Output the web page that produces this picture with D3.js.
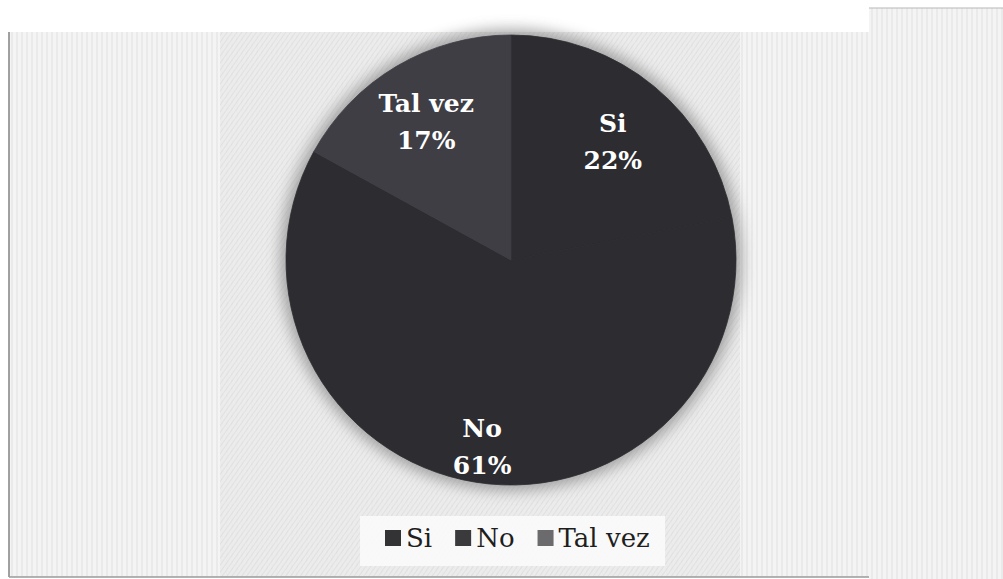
<!DOCTYPE html>
<html>
<head>
<meta charset="utf-8">
<script src="https://cdn.jsdelivr.net/npm/d3@7"></script>
<style>
  html, body { margin: 0; padding: 0; background: #ffffff; }
  svg { display: block; }
</style>
</head>
<body>
<svg id="chart" width="1003" height="579"></svg>
<script>
// ---- data ----
const categories = ["Si", "No", "Tal vez"];
const values = [22, 61, 17];
const percentLabels = ["22%", "61%", "17%"];
const sliceColors = ["#2c2c31", "#2c2c31", "#3e3e44"];
const legendColors = ["#333336", "#3a3a3c", "#6b6b6e"];

// ---- layout ----
const W = 1003, H = 579;
const cx = 511, cy = 260, R = 225;
const labelRadiusFactor = [0.71, 0.82, 0.74];

const svg = d3.select("#chart");
const defs = svg.append("defs");

// textured background patterns
const pat = defs.append("pattern")
  .attr("id", "tex").attr("width", 4).attr("height", 4)
  .attr("patternUnits", "userSpaceOnUse")
  .attr("patternTransform", "rotate(35)");
pat.append("rect").attr("width", 4).attr("height", 4).attr("fill", "#ebebeb");
pat.append("line").attr("x1", 0).attr("y1", 0).attr("x2", 0).attr("y2", 4)
  .attr("stroke", "#cfcfcf").attr("stroke-width", 1);

const pat2 = defs.append("pattern")
  .attr("id", "tex2").attr("width", 5).attr("height", 7)
  .attr("patternUnits", "userSpaceOnUse");
pat2.append("rect").attr("width", 5).attr("height", 7).attr("fill", "#f4f4f4");
pat2.append("line").attr("x1", 2).attr("y1", 0).attr("x2", 2).attr("y2", 7)
  .attr("stroke", "#e0e0e0").attr("stroke-width", 1);

const blur = defs.append("filter").attr("id", "shadow")
  .attr("x", "-20%").attr("y", "-20%").attr("width", "140%").attr("height", "140%");
blur.append("feGaussianBlur").attr("stdDeviation", 7);

// background
svg.append("rect").attr("width", W).attr("height", H).attr("fill", "#ffffff");
svg.append("rect").attr("x", 9).attr("y", 32).attr("width", 860).attr("height", 545)
  .attr("fill", "url(#tex2)");
svg.append("rect").attr("x", 220).attr("y", 32).attr("width", 520).attr("height", 545)
  .attr("fill", "url(#tex)").attr("opacity", 0.85);
svg.append("rect").attr("x", 869).attr("y", 8).attr("width", 134).attr("height", 571)
  .attr("fill", "url(#tex2)");
svg.append("line").attr("x1", 869).attr("x2", 1003).attr("y1", 8).attr("y2", 8)
  .attr("stroke", "#b8b8b8").attr("stroke-width", 1.2);
svg.append("line").attr("x1", 9).attr("x2", 9).attr("y1", 32).attr("y2", 577)
  .attr("stroke", "#8a8a8a").attr("stroke-width", 1.6);
svg.append("line").attr("x1", 9).attr("x2", 869).attr("y1", 577).attr("y2", 577)
  .attr("stroke", "#9a9a9a").attr("stroke-width", 1.4);

// pie
const pie = d3.pie().sort(null).value(d => d.value);
const data = categories.map((c, i) => ({ name: c, value: values[i], label: percentLabels[i], i }));
const arcs = pie(data);
const arc = d3.arc().innerRadius(0).outerRadius(R);

const g = svg.append("g").attr("transform", `translate(${cx},${cy})`);
g.append("circle").attr("r", R + 6).attr("fill", "#8c8c8c").attr("opacity", 0.75)
  .attr("filter", "url(#shadow)");
g.selectAll("path.slice").data(arcs).join("path")
  .attr("class", "slice")
  .attr("d", arc)
  .attr("fill", d => sliceColors[d.data.i])
  .attr("stroke", d => sliceColors[d.data.i])
  .attr("stroke-width", 0.8);

// labels
const lbl = g.selectAll("text.lbl").data(arcs).join("text")
  .attr("class", "lbl")
  .attr("transform", d => {
    const r = R * labelRadiusFactor[d.data.i];
    const c = d3.arc().innerRadius(r).outerRadius(r).centroid(d);
    return `translate(${c[0]},${c[1]})`;
  })
  .attr("text-anchor", "middle")
  .attr("fill", "#ffffff")
  .attr("font-family", "'DejaVu Serif', 'Liberation Serif', serif")
  .attr("font-weight", "bold")
  .attr("font-size", 25);
lbl.append("tspan").attr("x", 0).attr("dy", "-0.2em").text(d => d.data.name);
lbl.append("tspan").attr("x", 0).attr("dy", "1.48em").text(d => d.data.label);

// legend
svg.append("rect").attr("x", 360).attr("y", 516).attr("width", 305).attr("height", 50)
  .attr("fill", "#fbfbfb").attr("opacity", 0.85);
const legend = svg.append("g").attr("transform", "translate(385,538)");
let xoff = 0;
categories.forEach((c, i) => {
  const item = legend.append("g").attr("transform", `translate(${xoff},0)`);
  item.append("rect").attr("x", 0).attr("y", -8).attr("width", 16).attr("height", 16)
    .attr("fill", legendColors[i]);
  const t = item.append("text").attr("x", 21).attr("y", 9)
    .attr("font-family", "'DejaVu Serif', 'Liberation Serif', serif")
    .attr("font-size", 26).attr("fill", "#1e1e1e").text(c);
  xoff += 21 + t.node().getComputedTextLength() + 23;
});
</script>
</body>
</html>
